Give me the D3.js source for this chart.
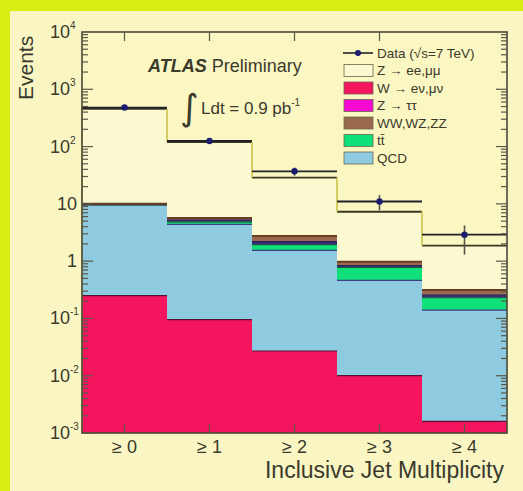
<!DOCTYPE html>
<html>
<head>
<meta charset="utf-8">
<script src="https://cdn.jsdelivr.net/npm/d3@7"></script>
<style>
  html, body { margin: 0; padding: 0; background: #f9f6c4; }
  svg { display: block; }
</style>
</head>
<body>
<svg id="chart" width="523" height="491"></svg>
<script>
// Inclusive jet multiplicity bins
const categories = ["≥ 0", "≥ 1", "≥ 2", "≥ 3", "≥ 4"];

// Stacked expectations per bin (bottom to top)
const wLnu    = [0.25, 0.095, 0.027, 0.010, 0.0016];
const qcd     = [9.3, 4.3, 1.52, 0.45, 0.138];
const ttbar   = [0.05, 0.45, 0.40, 0.32, 0.09];
const zTauTau = [0.3, 0.35, 0.25, 0.06, 0.025];
const diboson = [0.1, 0.45, 0.55, 0.14, 0.06];
const zLL     = [445, 114, 26, 6.3, 1.55];

// Data with statistical errors
const dataValues = [480, 125, 37, 11, 2.9];
const dataErrLo  = [22, 11, 6, 3.3, 1.6];
const dataErrHi  = [22, 11, 6, 3.3, 1.3];

// Axis tick labels
const yTickValues = [1e4, 1e3, 1e2, 10, 1, 1e-1, 1e-2, 1e-3];
const yTickLabels = [["10","4"],["10","3"],["10","2"],["10",""],["1",""],["10","-1"],["10","-2"],["10","-3"]];

const legendEntries = [
  {label: "Data (√s=7 TeV)", type: "data"},
  {label: "Z → ee,μμ", color: "#fbf9cf"},
  {label: "W → eν,μν", color: "#f5145e"},
  {label: "Z → ττ", color: "#f60ad2"},
  {label: "WW,WZ,ZZ", color: "#9a6a4e"},
  {label: "tt̄", color: "#10e07a"},
  {label: "QCD", color: "#8ecbe0"}
];

const series = [
  {values: wLnu,    color: "#f5145e"},
  {values: qcd,     color: "#8ecbe0"},
  {values: ttbar,   color: "#10e07a"},
  {values: zTauTau, color: "#3a2d7a"},
  {values: diboson, color: "#9a6a4e"},
  {values: zLL,     color: "#fbf9cf"}
];

const svg = d3.select("#chart");
const W = 523, H = 491;
const pLeft = 82, pRight = 507, pTop = 32, pBottom = 433;
const ink = "#3b3a2c";

// page background and accent border
svg.append("rect").attr("width", W).attr("height", H).attr("fill", "#f9f6c4");
svg.append("rect").attr("x", 0).attr("y", 0).attr("width", W).attr("height", 11).attr("fill", "#d6ee12");
svg.append("rect").attr("x", 0).attr("y", 0).attr("width", 10).attr("height", H).attr("fill", "#d6ee12");

const x = d3.scaleBand().domain(categories).range([pLeft, pRight]).padding(0);
const y = d3.scaleLog().domain([1e-3, 1e4]).range([pBottom, pTop]);

// plot area
svg.append("rect").attr("x", pLeft).attr("y", pTop).attr("width", pRight - pLeft).attr("height", pBottom - pTop)
  .attr("fill", "#faf7c3");

// cumulative stacks
const cum = categories.map(() => 0);
const layers = series.map(s => {
  const lo = cum.slice();
  s.values.forEach((v, i) => cum[i] += v);
  return {color: s.color, lo, hi: cum.slice()};
});

const gStack = svg.append("g");
// draw from the top layer down so each lower one sits over the larger fills
layers.slice().reverse().forEach(l => {
  categories.forEach((c, i) => {
    const yTop = y(l.hi[i]);
    const yBot = y(Math.max(l.lo[i], 1e-3));
    gStack.append("rect")
      .attr("x", x(c)).attr("width", x.bandwidth())
      .attr("y", yTop).attr("height", Math.max(0, yBot - yTop))
      .attr("fill", l.color);
  });
});

// thin edges on the upper boundaries of the small backgrounds
const edgeColors = ["#5a1030", "#3d3d80", "#1e5a3a", "#2a2060", "#6a3e22"];
layers.slice(0, 5).forEach((l, k) => {
  categories.forEach((c, i) => {
    gStack.append("line")
      .attr("x1", x(c)).attr("x2", x(c) + x.bandwidth())
      .attr("y1", y(l.hi[i])).attr("y2", y(l.hi[i]))
      .attr("stroke", edgeColors[k]).attr("stroke-width", k === 4 ? 2 : 1.2);
  });
});

// total expectation outline: dark horizontals, olive verticals
const totals = layers[layers.length - 1].hi;
categories.forEach((c, i) => {
  svg.append("line")
    .attr("x1", x(c)).attr("x2", x(c) + x.bandwidth())
    .attr("y1", y(totals[i])).attr("y2", y(totals[i]))
    .attr("stroke", "#3a3824").attr("stroke-width", 1.8);
  if (i > 0) {
    svg.append("line")
      .attr("x1", x(c)).attr("x2", x(c))
      .attr("y1", y(totals[i - 1])).attr("y2", y(totals[i]))
      .attr("stroke", "#c9c24a").attr("stroke-width", 1.6);
  }
});
svg.append("line").attr("x1", pLeft).attr("x2", pLeft)
  .attr("y1", y(totals[0])).attr("y2", pBottom).attr("stroke", "#c9c24a").attr("stroke-width", 1.2);

// data points
const gData = svg.append("g");
categories.forEach((c, i) => {
  const cx = x(c) + x.bandwidth() / 2;
  gData.append("line")
    .attr("x1", x(c)).attr("x2", x(c) + x.bandwidth())
    .attr("y1", y(dataValues[i])).attr("y2", y(dataValues[i]))
    .attr("stroke", "#22222a").attr("stroke-width", 1.8);
  gData.append("line")
    .attr("x1", cx).attr("x2", cx)
    .attr("y1", y(dataValues[i] + dataErrHi[i])).attr("y2", y(dataValues[i] - dataErrLo[i]))
    .attr("stroke", "#55554a").attr("stroke-width", 1.6);
  gData.append("circle").attr("cx", cx).attr("cy", y(dataValues[i])).attr("r", 3.2)
    .attr("fill", "#1c1c70");
});

// frame
svg.append("rect").attr("x", pLeft).attr("y", pTop).attr("width", pRight - pLeft).attr("height", pBottom - pTop)
  .attr("fill", "none").attr("stroke", "#4a4838").attr("stroke-width", 1.6);

// log ticks on left and right
const gTicks = svg.append("g").attr("stroke", "#5a5848").attr("stroke-width", 1.2);
for (let e = -3; e < 4; e++) {
  for (let m = 1; m < 10; m++) {
    const v = m * Math.pow(10, e);
    const yy = y(v);
    const len = m === 1 ? 11 : 6;
    gTicks.append("line").attr("x1", pLeft).attr("x2", pLeft + len).attr("y1", yy).attr("y2", yy);
    gTicks.append("line").attr("x1", pRight).attr("x2", pRight - len).attr("y1", yy).attr("y2", yy);
  }
}
// bin-centre ticks on top and bottom
categories.forEach((c, i) => {
  const cx = x(c) + x.bandwidth() / 2;
  if (i < categories.length - 1) {
    gTicks.append("line").attr("x1", cx).attr("x2", cx).attr("y1", pTop).attr("y2", pTop + 9);
  }
  gTicks.append("line").attr("x1", cx).attr("x2", cx).attr("y1", pBottom).attr("y2", pBottom - 9);
});

// y tick labels
const gYL = svg.append("g").attr("font-family", "Liberation Sans, Arial, sans-serif").attr("fill", ink);
yTickValues.forEach((v, k) => {
  const [base, exp] = yTickLabels[k];
  gYL.append("text").attr("x", exp ? 70 : 77).attr("y", y(v) + 6)
    .attr("text-anchor", "end").attr("font-size", 18).text(base);
  if (exp) {
    gYL.append("text").attr("x", 70).attr("y", y(v) - 3).attr("font-size", 10).text(exp);
  }
});

// x tick labels
categories.forEach(c => {
  svg.append("text").attr("x", x(c) + x.bandwidth() / 2).attr("y", 453)
    .attr("text-anchor", "middle").attr("font-family", "Liberation Sans, Arial, sans-serif")
    .attr("font-size", 18).attr("fill", ink).text(c);
});

// axis titles
svg.append("text").attr("x", 504).attr("y", 478).attr("text-anchor", "end")
  .attr("font-family", "Liberation Sans, Arial, sans-serif").attr("font-size", 23)
  .attr("fill", ink).text("Inclusive Jet Multiplicity");
svg.append("text").attr("transform", "translate(33,100) rotate(-90)")
  .attr("font-family", "Liberation Sans, Arial, sans-serif").attr("font-size", 21)
  .attr("fill", ink).text("Events");

// experiment label
const lab = svg.append("text").attr("x", 148).attr("y", 72)
  .attr("font-family", "Liberation Sans, Arial, sans-serif").attr("font-size", 18).attr("fill", ink);
lab.append("tspan").attr("font-weight", "bold").attr("font-style", "italic").text("ATLAS");
lab.append("tspan").text(" Preliminary");

svg.append("text").attr("x", 180).attr("y", 120)
  .attr("font-family", "DejaVu Sans, sans-serif").attr("font-size", 36).attr("fill", ink).text("∫");
const lum = svg.append("text").attr("x", 201).attr("y", 114)
  .attr("font-family", "Liberation Sans, Arial, sans-serif").attr("font-size", 17).attr("fill", ink);
lum.append("tspan").text("Ldt = 0.9 pb");
lum.append("tspan").attr("dy", -8).attr("font-size", 10).text("-1");

// legend
const gLeg = svg.append("g").attr("font-family", "Liberation Sans, Arial, sans-serif");
legendEntries.forEach((d, k) => {
  const yy = 53 + k * 17.5;
  if (d.type === "data") {
    gLeg.append("line").attr("x1", 343).attr("x2", 373).attr("y1", yy).attr("y2", yy)
      .attr("stroke", "#22222a").attr("stroke-width", 1.6);
    gLeg.append("circle").attr("cx", 358).attr("cy", yy).attr("r", 3).attr("fill", "#1c1c70");
  } else {
    gLeg.append("rect").attr("x", 344).attr("y", yy - 6).attr("width", 29).attr("height", 12)
      .attr("fill", d.color).attr("stroke", "#6a6850").attr("stroke-width", 0.8);
  }
  gLeg.append("text").attr("x", 377).attr("y", yy + 4.5).attr("font-size", 13.5)
    .attr("fill", ink).text(d.label);
});
</script>
</body>
</html>
